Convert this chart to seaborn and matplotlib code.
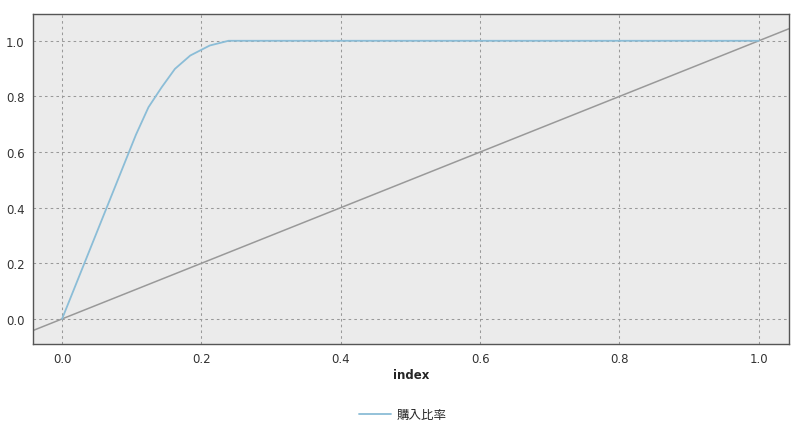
import matplotlib
matplotlib.use("Agg")
import matplotlib.pyplot as plt
import seaborn as sns
import pandas as pd

# gains curve
index_vals = [0.0, 0.106, 0.124, 0.143, 0.162, 0.184, 0.212, 0.239, 1.0]
ratio_vals = [0.0, 0.662, 0.761, 0.833, 0.899, 0.947, 0.983, 1.0, 1.0]
series_name = "購入比率"
xticks = [0.0, 0.2, 0.4, 0.6, 0.8, 1.0]
yticks = [0.0, 0.2, 0.4, 0.6, 0.8, 1.0]

sns.set_style("white")
plt.rcParams['font.family'] = ['DejaVu Sans', 'Noto Sans CJK JP']

df = pd.DataFrame({'index': index_vals, 'ratio': ratio_vals})

fig = plt.figure(figsize=(8, 4.35), dpi=100)
ax = fig.add_axes([0.041, 0.207, 0.945, 0.759])
ax.set_facecolor('#EBEBEB')

sns.lineplot(data=df, x='index', y='ratio', ax=ax, color='#8BBDD7',
             linewidth=1.3, label=series_name)
# random-model diagonal
ax.axline((0, 0), (1, 1), color='#999999', linewidth=1.1, zorder=1)

ax.set_xlim(-0.042, 1.043)
ax.set_ylim(-0.09, 1.097)
ax.set_xticks(xticks)
ax.set_yticks(yticks)
ax.set_xticklabels([f"{v:.1f}" for v in xticks], fontsize=8.5, color='#333333')
ax.set_yticklabels([f"{v:.1f}" for v in yticks], fontsize=8.5, color='#333333')
ax.tick_params(axis='both', length=4, width=0.8, color='#555555', direction='out', pad=2)
ax.grid(True, linestyle=(0, (2.5, 3)), color='#999999', linewidth=0.75)
ax.set_axisbelow(True)
for s in ax.spines.values():
    s.set_color('#555555')
    s.set_linewidth(1.0)

ax.set_xlabel('index', fontsize=8.5, fontweight='bold', labelpad=2)
ax.set_ylabel('')

leg = ax.legend(loc='center', bbox_to_anchor=(0.49, -0.215), frameon=False,
                fontsize=9, handlelength=2.5, handletextpad=0.5)

fig.savefig('out.png', dpi=100)
plt.close(fig)
